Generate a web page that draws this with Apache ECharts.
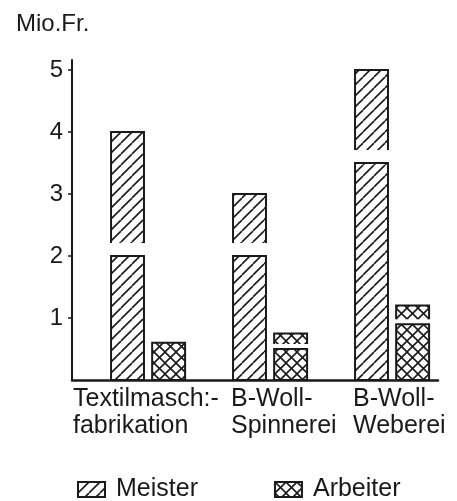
<!DOCTYPE html>
<html><head><meta charset="utf-8">
<script src="https://cdn.jsdelivr.net/npm/echarts@6/dist/echarts.min.js"></script>
<style>html,body{margin:0;padding:0;background:#fff}#c{width:457px;height:501px}</style>
</head><body><div id="c"></div>
<script>
// ---- data ----
const categories = ['Textilmasch:-\nfabrikation', 'B-Woll-\nSpinnerei', 'B-Woll-\nWeberei'];
const meisterLow = [2, 2, 3.5];
const meisterHigh = [4, 3, 5];
const arbeiterLow = [0.6, 0.5, 0.9];
const arbeiterHigh = [null, 0.75, 1.2];
const yTicks = [1, 2, 3, 4, 5];
const yName = 'Mio.Fr.';
const seriesNames = ['Meister', 'Arbeiter'];

// ---- style ----
const INK = '#1a1a1a';
const FONT = '"Liberation Sans", Arial, sans-serif';
function makePattern(cross) {
  const p = 11;
  const cv = document.createElement('canvas');
  cv.width = p; cv.height = p;
  const g = cv.getContext('2d');
  g.fillStyle = '#fff'; g.fillRect(0, 0, p, p);
  g.strokeStyle = INK; g.lineWidth = 1.6;
  for (let k = -1; k <= 1; k++) {
    g.beginPath(); g.moveTo(k * p, p); g.lineTo(k * p + p, 0); g.stroke();
    if (cross) { g.beginPath(); g.moveTo(k * p, 0); g.lineTo(k * p + p, p); g.stroke(); }
  }
  return { image: cv, repeat: 'repeat' };
}
const hatch = makePattern(false);
const crossHatch = makePattern(true);
const barStyle = {
  Meister: { fill: hatch, offset: -0.18, width: 0.27, gap: 13 },
  Arbeiter: { fill: crossHatch, offset: 0.157, width: 0.27, gap: 5 }
};
const labelDx = [-60, -24, -24];

function renderBar(name) {
  const st = barStyle[name];
  return function (params, api) {
    const idx = api.value(0);
    const low = api.value(1);
    const high = api.value(2);
    const base = api.coord([idx, 0]);
    const band = api.size([1, 0])[0];
    const w = band * st.width;
    const x0 = base[0] + band * st.offset;
    const yl = api.coord([idx, low])[1];
    const children = [{
      type: 'rect', shape: { x: x0, y: yl, width: w, height: base[1] - yl },
      style: { fill: st.fill, stroke: INK, lineWidth: 2 }
    }];
    if (high != null && !isNaN(high)) {
      const yh = api.coord([idx, high])[1];
      const yb = yl - st.gap;
      children.push({ type: 'rect', shape: { x: x0, y: yh, width: w, height: yb - yh }, style: { fill: st.fill } });
      children.push({ type: 'polyline', shape: { points: [[x0, yb], [x0, yh], [x0 + w, yh], [x0 + w, yb]] },
        style: { fill: null, stroke: INK, lineWidth: 2 } });
    }
    return { type: 'group', children };
  };
}

const chart = echarts.init(document.getElementById('c'), null, { renderer: 'canvas' });
chart.setOption({
  backgroundColor: '#fff',
  animation: false,
  title: { text: yName, left: 11, top: 7, textStyle: { fontFamily: FONT, fontSize: 24, fontWeight: 'normal', color: INK } },
  grid: { left: 72, right: 19, top: 60, bottom: 121 },
  legend: {
    data: seriesNames, left: 72, top: 472, itemWidth: 27, itemHeight: 15, itemGap: 76,
    icon: 'rect',
    textStyle: { fontFamily: FONT, fontSize: 25, color: INK, padding: [0, 0, 0, 6] }
  },
  xAxis: {
    type: 'category', data: categories,
    axisLine: { lineStyle: { color: INK, width: 2.5 } },
    axisTick: { show: false }, axisLabel: { show: false }, splitLine: { show: false }
  },
  yAxis: {
    type: 'value', min: 0, max: 5.16,
    axisLine: { show: true, lineStyle: { color: INK, width: 2 } },
    axisTick: { show: true, length: 4, customValues: yTicks, lineStyle: { color: INK, width: 1.5 } },
    axisLabel: { customValues: yTicks, margin: 9, fontFamily: FONT, fontSize: 24, color: INK },
    splitLine: { show: false }
  },
  series: [
    {
      name: 'Meister', type: 'custom', renderItem: renderBar('Meister'),
      itemStyle: { color: hatch, borderColor: INK, borderWidth: 1.5 },
      encode: { x: 0, y: [1, 2] },
      data: categories.map((c, i) => [i, meisterLow[i], meisterHigh[i] == null ? '-' : meisterHigh[i]])
    },
    {
      name: 'Arbeiter', type: 'custom', renderItem: renderBar('Arbeiter'),
      itemStyle: { color: crossHatch, borderColor: INK, borderWidth: 1.5 },
      encode: { x: 0, y: [1, 2] },
      data: categories.map((c, i) => [i, arbeiterLow[i], arbeiterHigh[i] == null ? '-' : arbeiterHigh[i]])
    },
    {
      name: 'labels', type: 'custom', silent: true,
      renderItem: function (params, api) {
        const idx = api.value(0);
        const p = api.coord([idx, 0]);
        return { type: 'text', x: p[0] + labelDx[idx], y: p[1] + 6,
          style: { text: categories[idx], fill: INK, font: '25px ' + FONT, lineHeight: 27,
            align: 'left', verticalAlign: 'top' } };
      },
      encode: { x: 0, y: 1 },
      data: categories.map((c, i) => [i, 0])
    }
  ]
});
</script></body></html>
